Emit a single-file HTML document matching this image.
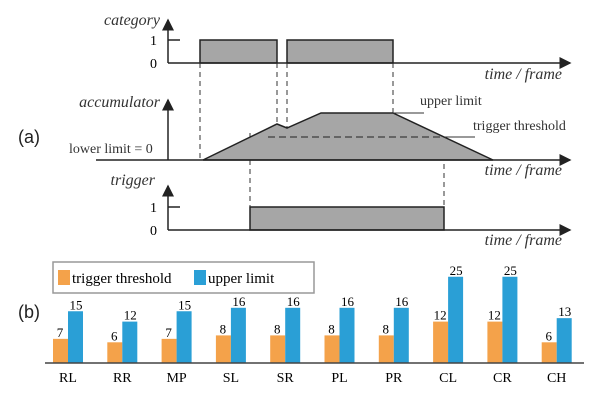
<!DOCTYPE html>
<html><head><meta charset="utf-8"><style>
body{margin:0;background:#fff;}
svg{display:block;font-family:"Liberation Serif",serif;}
.it{font-style:italic;font-size:16px;fill:#333;}
</style></head><body>
<svg width="609" height="402" viewBox="0 0 609 402">
<defs><marker id="ar" markerWidth="8" markerHeight="8" refX="7" refY="4" orient="auto"><path d="M0,0 L8,4 L0,8 Z" fill="#222"/></marker></defs>
<g>
<text class="it" x="160" y="25" text-anchor="end">category</text>
<line x1="168" y1="63" x2="168" y2="20" stroke="#222" stroke-width="1.5" marker-end="url(#ar)"/>
<line x1="168" y1="40" x2="180" y2="40" stroke="#222" stroke-width="1.5"/>
<text x="157" y="45" font-size="14" text-anchor="end">1</text><text x="157" y="68" font-size="14" text-anchor="end">0</text>
<rect x="200" y="40" width="77" height="23" fill="#a6a6a6" stroke="#222" stroke-width="1.5"/>
<rect x="287" y="40" width="106" height="23" fill="#a6a6a6" stroke="#222" stroke-width="1.5"/>
<line x1="168" y1="63" x2="570" y2="63" stroke="#222" stroke-width="1.5" marker-end="url(#ar)"/>
<text class="it" x="562" y="79" text-anchor="end">time / frame</text>
</g>
<g stroke="#333" stroke-width="1" stroke-dasharray="5,4" fill="none">
<line x1="200" y1="63" x2="200" y2="160"/><line x1="277" y1="63" x2="277" y2="124"/><line x1="287" y1="63" x2="287" y2="140"/><line x1="393" y1="63" x2="393" y2="113"/>
<line x1="250" y1="133" x2="250" y2="230"/><line x1="444" y1="137" x2="444" y2="230"/>
</g>
<g>
<text class="it" x="160" y="107" text-anchor="end">accumulator</text>
<polygon points="203,160 277,124 287,128 321,113 393,113 493,160" fill="#a6a6a6" stroke="#222" stroke-width="1.5"/>
<line x1="168" y1="160" x2="168" y2="100" stroke="#222" stroke-width="1.5" marker-end="url(#ar)"/>
<line x1="96" y1="160" x2="570" y2="160" stroke="#222" stroke-width="1.5" marker-end="url(#ar)"/>
<line x1="268" y1="137" x2="445" y2="137" stroke="#222" stroke-dasharray="7,4"/>
<line x1="445" y1="137" x2="475" y2="137" stroke="#333"/>
<line x1="393" y1="113" x2="424" y2="113" stroke="#333"/>
<text x="420" y="105" font-size="14" fill="#333">upper limit</text>
<text x="473" y="130" font-size="14" fill="#333">trigger threshold</text>
<text x="69" y="153" font-size="14" fill="#333">lower limit = 0</text>
<text x="18" y="143" font-size="18" font-family="Liberation Sans,sans-serif" fill="#222">(a)</text>
<text class="it" x="562" y="175" text-anchor="end">time / frame</text>
</g>
<g>
<text class="it" x="155" y="185" text-anchor="end">trigger</text>
<line x1="168" y1="230" x2="168" y2="186" stroke="#222" stroke-width="1.5" marker-end="url(#ar)"/>
<line x1="168" y1="207" x2="180" y2="207" stroke="#222" stroke-width="1.5"/>
<text x="157" y="212" font-size="14" text-anchor="end">1</text><text x="157" y="235" font-size="14" text-anchor="end">0</text>
<rect x="250" y="207" width="194" height="23" fill="#a6a6a6" stroke="#222" stroke-width="1.5"/>
<line x1="168" y1="230" x2="570" y2="230" stroke="#222" stroke-width="1.5" marker-end="url(#ar)"/>
<text class="it" x="562" y="245" text-anchor="end">time / frame</text>
</g>
<g>
<rect x="53" y="262" width="261" height="31" fill="#fff" stroke="#999" stroke-width="1.5"/>
<rect x="58" y="270" width="12" height="15" fill="#f4a24a"/><text x="72" y="283" font-size="15">trigger threshold</text>
<rect x="194" y="270" width="12" height="15" fill="#2a9fd6"/><text x="208" y="283" font-size="15">upper limit</text>
</g>
<text x="18" y="318" font-size="18" font-family="Liberation Sans,sans-serif" fill="#222">(b)</text>
<g id="bars"></g>
<line x1="45" y1="363" x2="584" y2="363" stroke="#444" stroke-width="1.5"/>
</svg>
<script>
const categories=["RL","RR","MP","SL","SR","PL","PR","CL","CR","CH"];
const thresholdValues=[7,6,7,8,8,8,8,12,12,6];
const upperValues=[15,12,15,16,16,16,16,25,25,13];
const g=document.getElementById('bars');const ns="http://www.w3.org/2000/svg";
const base=363;
const x=i=>68+i*54.3, y=v=>base-v*3.45;
function mk(t,a){const e=document.createElementNS(ns,t);for(const k in a)e.setAttribute(k,a[k]);g.appendChild(e);return e;}
categories.forEach((c,i)=>{
 const cx=x(i);
 let r=mk('rect',{x:cx-15,y:y(thresholdValues[i]),width:15,height:base-y(thresholdValues[i]),fill:'#f4a24a'});
 
 
 let b=mk('rect',{x:cx,y:y(upperValues[i]),width:15,height:base-y(upperValues[i]),fill:'#2a9fd6'});
 
 
 let t1=mk('text',{x:cx-8,y:y(thresholdValues[i])-2,'font-size':13,'text-anchor':'middle'});t1.textContent=thresholdValues[i];
 
 
 let t2=mk('text',{x:cx+8,y:y(upperValues[i])-2,'font-size':13,'text-anchor':'middle'});t2.textContent=upperValues[i];
 
 
 let l=mk('text',{x:cx,y:382,'font-size':14,'text-anchor':'middle'});l.textContent=c;
 
 
});
</script>
</body></html>
